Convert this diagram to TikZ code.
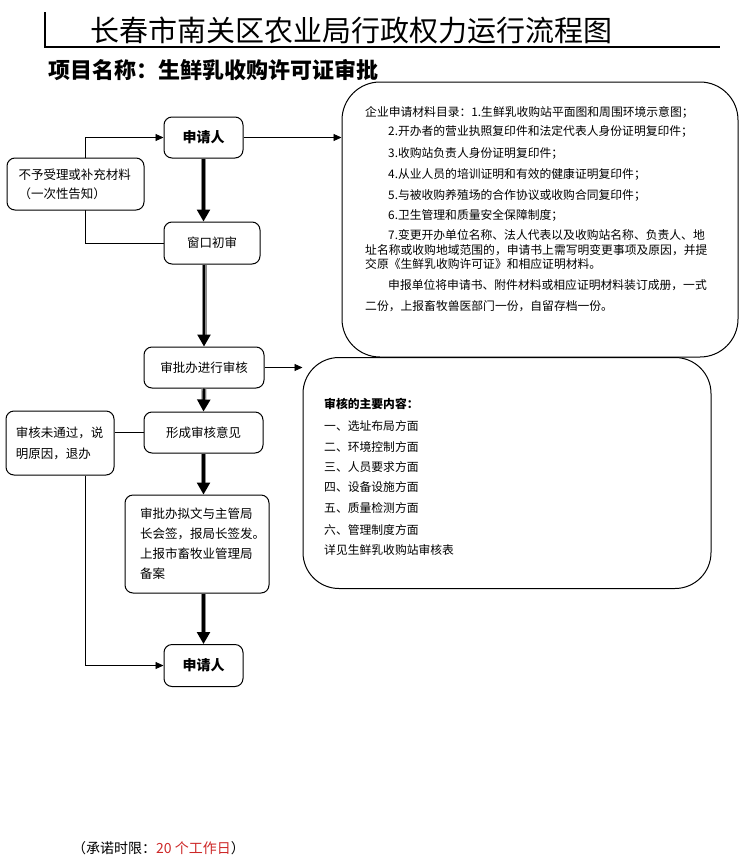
\documentclass[tikz,border=0pt]{standalone}
\usepackage{fontspec}
\setmainfont{Noto Sans CJK SC}
\usepackage{xcolor}
\usetikzlibrary{arrows.meta,positioning,calc}

\definecolor{limitred}{RGB}{205,40,40}

\begin{document}
\begin{tikzpicture}[x=1pt,y=-1pt,
    stepbox/.style={draw,rounded corners=8pt,line width=1pt,fill=white,
      inner sep=0pt,align=center,font=\fontsize{12.5}{19}\selectfont},
    boldbox/.style={stepbox,font=\bfseries\fontsize{14}{14}\selectfont},
    listbox/.style={draw,rounded corners=38pt,line width=1pt,inner sep=0pt},
    thinarrow/.style={line width=0.9pt,-{Triangle[length=8pt,width=7pt]}},
    thinline/.style={line width=0.9pt},
    thickarrow/.style={draw=black!45,line width=5pt,shorten >=10pt,
      postaction={draw=black,line width=2.4pt,shorten >=0pt,
        -{Triangle[length=12pt,width=13pt]}}},
    listtext/.style={anchor=west,inner sep=0pt,font=\fontsize{11.8}{14}\selectfont}]

    \useasboundingbox (0,0) rectangle (747,865);

    % title and item name
    \draw[line width=1.2pt] (45,12) -- (45,47) -- (720,47);
    \node[anchor=west,inner sep=0pt,font=\fontsize{29}{29}\selectfont] (title) at (90,30) {长春市南关区农业局行政权力运行流程图};
    \node[anchor=west,inner sep=0pt,font=\bfseries\fontsize{22}{22}\selectfont] (item) at (48,70) {项目名称：生鲜乳收购许可证审批};

    % acceptance
    \coordinate (leftrail) at (85,0);
    \node[boldbox,minimum width=79pt,minimum height=41pt] (apply1) at (203.5,137.5) {申请人};
    \node[stepbox,minimum width=96pt,minimum height=42pt] (window) at (212,243) {窗口初审};
    \draw[thinarrow] (window.west) -| (leftrail |- apply1.west) -- (apply1.west);
    \node[stepbox,minimum width=137pt,minimum height=52pt,text width=114pt,align=left] (refuse) at (75.5,184) {不予受理或补充材料\\（一次性告知）};

    % review
    \node[stepbox,minimum width=120pt,minimum height=41pt] (review) at (204,367.5) {审批办进行审核};
    \node[stepbox,minimum width=119pt,minimum height=41pt] (opinion) at (203.5,432.5) {形成审核意见};
    \node[stepbox,minimum width=108pt,minimum height=64pt,text width=88pt,align=left,
      font=\fontsize{12.5}{21}\selectfont] (fail) at (60,443) {审核未通过，说\\明原因，退办};
    \node[stepbox,minimum width=144pt,minimum height=98pt,text width=114pt,align=left,
      font=\fontsize{12.5}{20}\selectfont] (draft) at (197,544) {审批办拟文与主管局\\长会签，报局长签发。\\上报市畜牧业管理局\\备案};
    \node[boldbox,minimum width=79pt,minimum height=42pt] (apply2) at (203.5,665.5) {申请人};

    % side boxes
    \node[listbox,minimum width=396pt,minimum height=275pt] (list) at (540,219.5) {};
    \node[listbox,rounded corners=36pt,minimum width=408pt,minimum height=231pt] (content) at (507,473) {};

    % connectors
    \draw[thinarrow] (apply1.east) -- (apply1.east -| list.west);
    \draw[thinarrow] (review.east) -- (review.east -| content.west);
    \draw[thinline] (opinion.west) -- (opinion.west -| fail.east);
    \draw[thinarrow] (leftrail |- fail.south) |- (apply2.west);

    \draw[thickarrow] (apply1.south) -- (apply1.south |- window.north);
    \draw[thickarrow] (review.north |- window.south) -- (review.north);
    \draw[thickarrow] (review.south) -- (opinion.north);
    \draw[thickarrow] (opinion.south) -- (opinion.south |- draft.north);
    \draw[thickarrow] (opinion.south |- draft.south) -- (apply2.north);

    % material list
    \foreach \x/\y/\t [count=\i] in {
        365/112/{企业申请材料目录：1.生鲜乳收购站平面图和周围环境示意图；},
        388/131/{2.开办者的营业执照复印件和法定代表人身份证明复印件；},
        388/153/{3.收购站负责人身份证明复印件；},
        388/174/{4.从业人员的培训证明和有效的健康证明复印件；},
        388/195/{5.与被收购养殖场的合作协议或收购合同复印件；},
        388/215/{6.卫生管理和质量安全保障制度；},
        388/235/{7.变更开办单位名称、法人代表以及收购站名称、负责人、地},
        365/250/{址名称或收购地域范围的，申请书上需写明变更事项及原因，并提},
        365/264/{交原《生鲜乳收购许可证》和相应证明材料。},
        388/285/{申报单位将申请书、附件材料或相应证明材料装订成册，一式},
        365/306/{二份，上报畜牧兽医部门一份，自留存档一份。}}
      \node[listtext] (req\i) at (\x,\y) {\t};

    % review contents
    \node[listtext,font=\bfseries\fontsize{11.8}{14}\selectfont] (chkhead) at (324,404) {审核的主要内容：};
    \foreach \y/\t [count=\i] in {426/一、选址布局方面, 447/二、环境控制方面,
        467/三、人员要求方面, 487/四、设备设施方面, 508/五、质量检测方面,
        530/六、管理制度方面, 550/详见生鲜乳收购站审核表}
      \node[listtext] (chk\i) at (324,\y) {\t};

    % time limit
    \node[anchor=west,inner sep=0pt,font=\fontsize{14}{16}\selectfont] (limit) at (72,848) {（承诺时限：\textcolor{limitred}{20 个工作日}）};

\end{tikzpicture}
\end{document}
